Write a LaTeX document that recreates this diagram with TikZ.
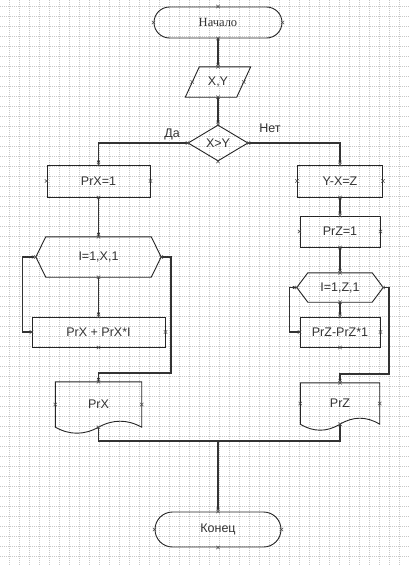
\documentclass[tikz,border=0pt]{standalone}
\usepackage{fontspec}
\setmainfont{Liberation Sans}
\newfontfamily\timesru{Liberation Serif}
\usetikzlibrary{arrows.meta,calc,shapes.geometric}

% small cross at a connection point
\newcommand\cpx[1]{\draw[cpm] (#1) ++(-1.7,-1.7) -- ++(3.4,3.4) ++(-3.4,0) -- ++(3.4,-3.4);}
% loop block outline
\newcommand\hexa[2]{\draw[shp] ([xshift=#2]#1.north west) -- ([xshift=-#2]#1.north east) -- (#1.east)
  -- ([xshift=-#2]#1.south east) -- ([xshift=#2]#1.south west) -- (#1.west) -- cycle;}
% document outline
\newcommand\docu[1]{\draw[shp] (#1.south west) -- (#1.north west) -- (#1.north east) -- (#1.south east)
  .. controls ($(#1.south east)!1/6!(#1.south west)+(0,8pt)$) and ($(#1.south east)!2/6!(#1.south west)+(0,8pt)$) .. (#1.south)
  .. controls ($(#1.south east)!4/6!(#1.south west)+(0,-8pt)$) and ($(#1.south east)!5/6!(#1.south west)+(0,-8pt)$) .. (#1.south west) -- cycle;}

\begin{document}
\begin{tikzpicture}[x=1pt,y=-1pt,>={Latex[length=4pt,width=3.5pt]},
font=\fontsize{12.5}{14}\selectfont,
gridl/.style={draw=black!22,line width=0.5pt,dash pattern=on 1pt off 1pt},
line/.style={draw=black!80,line width=1.1pt},
shp/.style={draw=black!85,line width=0.9pt},
cpm/.style={draw=black!70,line width=0.5pt},
blk/.style={inner sep=0pt,text=black!80},
term/.style={blk,shp,rounded corners=#1},
box/.style={blk,shp,rectangle},
lbl/.style={inner sep=1pt,text=black!80}]
\useasboundingbox (0,0) rectangle (409,565);
\fill[white] (0,0) rectangle (409,565);
\foreach \i in {0,...,40} \draw[gridl] (9.3+10*\i,0) -- (9.3+10*\i,565);
\foreach \j in {0,...,56} \draw[gridl] (0,6.7+10*\j) -- (409,6.7+10*\j);

\node[term=15.5pt,minimum width=128,minimum height=31] (start) at (218,22.5) {\timesru Начало};
\node[blk,minimum width=65,minimum height=30] (inp) at (218,82) {X,Y};
\node[blk,shp,diamond,aspect=1.67,minimum width=60,minimum height=36] (cond) at (218,143) {X>Y};
\node[lbl] (yes) at (172,134) {Да};
\node[lbl] (no) at (270,128) {Нет};

\node[box,minimum width=103,minimum height=32] (prx1) at (98.5,181) {PrX=1};
\node[blk,minimum width=125,minimum height=40] (loopx) at (98.5,257) {I=1,X,1};
\node[box,minimum width=133,minimum height=30] (bodyx) at (98.5,332) {PrX + PrX*I};
\node[blk,minimum width=86,minimum height=45] (outx) at (98.5,404.5) {PrX};

\node[box,minimum width=85,minimum height=32] (yxz) at (340,181) {Y-X=Z};
\node[box,minimum width=80,minimum height=31] (prz1) at (340,231.5) {PrZ=1};
\node[blk,minimum width=86,minimum height=29] (loopz) at (340,287.5) {I=1,Z,1};
\node[box,minimum width=80,minimum height=30] (bodyz) at (340,332) {PrZ-PrZ*1};
\node[blk,minimum width=79,minimum height=41] (outz) at (340,403.5) {PrZ};

\node[term=17.5pt,minimum width=126,minimum height=35] (end) at (218,529.5) {Конец};

\draw[shp] ([xshift=14pt]inp.north west) -- (inp.north east) -- ([xshift=-14pt]inp.south east) -- (inp.south west) -- cycle;
\hexa{loopx}{10pt}
\hexa{loopz}{11pt}
\docu{outx}
\docu{outz}

\coordinate (rx) at (171,373);
\coordinate (rz) at (389,374);
\coordinate (mg) at (218,441);

\draw[line,->] (start.south) -- (inp.north);
\draw[line,->] (inp.south) -- (cond.north);
\draw[line,->] (cond.west) -| (prx1.north);
\draw[line,->] (cond.east) -| (yxz.north);
\draw[line,->] (prx1.south) -- (loopx.north);
\draw[line,->] (loopx.south) -- (bodyx.north);
\draw[line,->] (bodyx.west) -- ++(-9,0) |- (loopx.west);
\draw[line,->] (loopx.east) -| (rx) -| (outx.north);
\draw[line,->] (yxz.south) -- (prz1.north);
\draw[line,->] (prz1.south) -- (loopz.north);
\draw[line,->] (loopz.south) -- (bodyz.north);
\draw[line,->] (bodyz.west) -- ++(-10,0) |- (loopz.west);
\draw[line,->] (loopz.east) -| (rz) -| (outz.north);
\draw[line] (outx.south) |- (mg);
\draw[line] (outz.south) |- (mg);
\draw[line,->] (mg) -- (end.north);

\foreach \n in {start,cond,prx1,loopx,bodyx,outx,yxz,prz1,loopz,bodyz,outz,end}
  \foreach \a in {north,south,east,west} {\cpx{\n.\a}}
\cpx{inp.north}
\cpx{inp.south}
\cpx{$(inp.west)+(7,0)$}
\cpx{$(inp.east)+(-7,0)$}
\end{tikzpicture}
\end{document}
